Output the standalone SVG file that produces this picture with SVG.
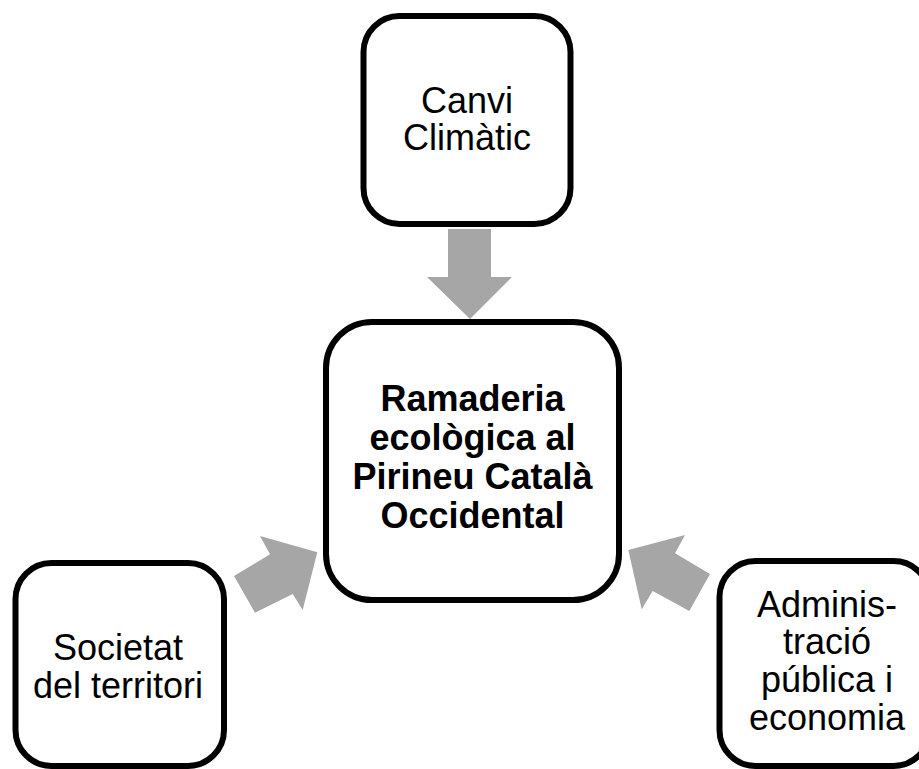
<svg xmlns="http://www.w3.org/2000/svg" width="919" height="769" viewBox="0 0 919 769">
<style>
.box{fill:#ffffff;stroke:#000000;stroke-width:6}
.arr{fill:#a6a6a6;stroke:none}
.t{font-family:"Liberation Sans",Arial,sans-serif;font-size:36px;fill:#000000;text-anchor:middle}
.b{font-family:"Liberation Sans",Arial,sans-serif;font-size:36px;font-weight:bold;fill:#000000;text-anchor:middle}
</style>
<rect width="919" height="769" fill="#ffffff"/>
<g id="connectors">
<polygon class="arr" points="448,229 491,229 491,277 512,277 470,319 427,277 448,277"/>
<polygon class="arr" points="234,576 270,554.3 260,536 317.3,552.3 302.7,610 292.7,594 255,612.7"/>
<polygon class="arr" points="628.3,550 685,535 675,553.3 710,574 689.3,611 652.7,591 641.7,609.3"/>
</g>
<g id="node-canvi">
<rect class="box" x="363.5" y="16" width="207" height="208" rx="36" ry="36"/>
<text class="t" x="467" y="113">Canvi</text>
<text class="t" x="467" y="150">Climàtic</text>
</g>
<g id="node-ramaderia">
<rect class="box" x="326" y="322" width="293" height="278" rx="46" ry="46"/>
<text class="b" x="472.5" y="411">Ramaderia</text>
<text class="b" x="472.5" y="450">ecològica al</text>
<text class="b" x="472.5" y="489">Pirineu Català</text>
<text class="b" x="472.5" y="528">Occidental</text>
</g>
<g id="node-societat">
<rect class="box" x="15.5" y="563" width="208.5" height="203" rx="36" ry="36"/>
<text class="t" x="118" y="660">Societat</text>
<text class="t" x="118" y="698">del territori</text>
</g>
<g id="node-administracio">
<rect class="box" x="719.5" y="561" width="210" height="205" rx="36" ry="36"/>
<text class="t" x="827" y="617">Adminis-</text>
<text class="t" x="827" y="654">tració</text>
<text class="t" x="827" y="692">pública i</text>
<text class="t" x="827" y="730">economia</text>
</g>
</svg>
